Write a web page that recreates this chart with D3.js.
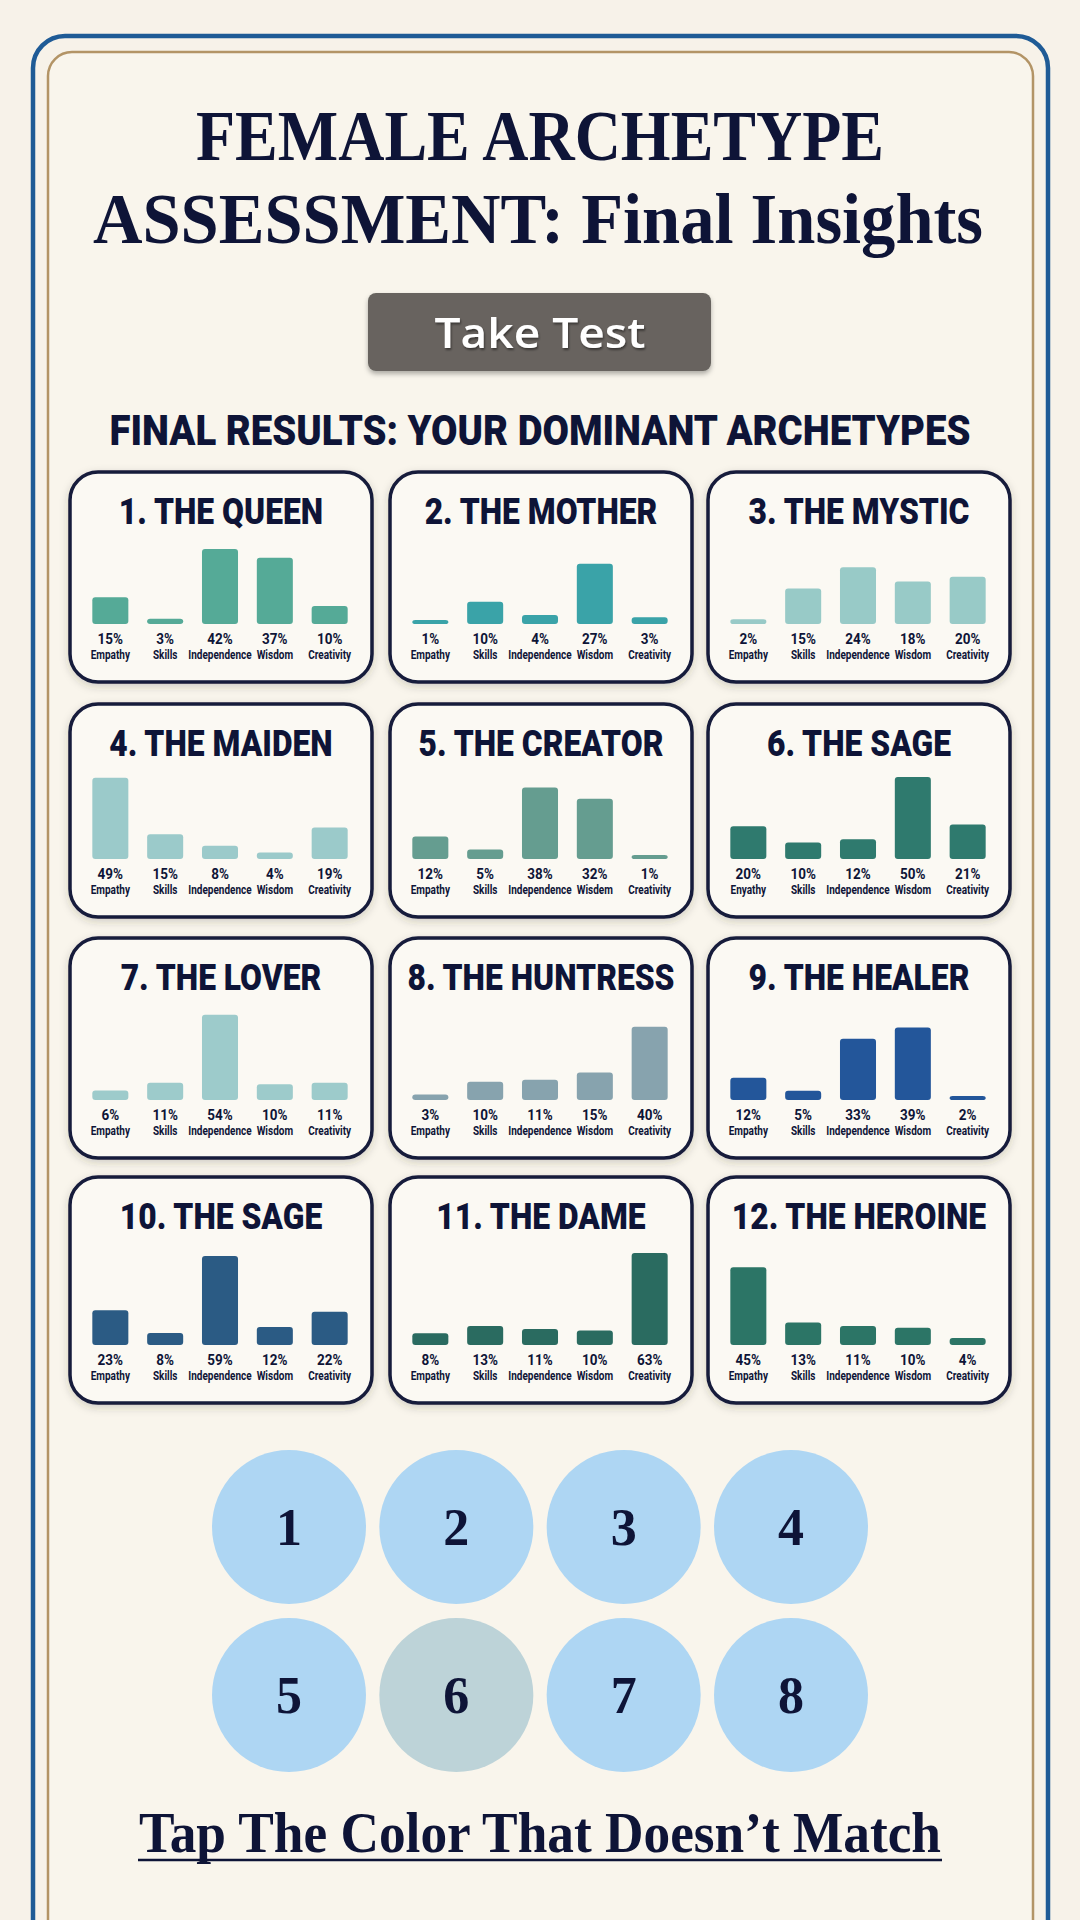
<!DOCTYPE html>
<html><head><meta charset="utf-8">
<script src="https://cdn.jsdelivr.net/npm/d3@7"></script>
<style>html,body{margin:0;padding:0;background:#f7f2e9;} svg{display:block}</style>
</head><body><svg id="c" width="1080" height="1920"></svg>
<script>
// ---------- DATA ----------
const categories = ["Empathy", "Skills", "Independence", "Wisdom", "Creativity"];
const creatorLabels = ["Empathy", "Skills", "Independence", "Wisdem", "Creativity"];
const sageLabels = ["Enyathy", "Skills", "Independence", "Wisdom", "Creativity"];
const titles = ["1. THE QUEEN", "2. THE MOTHER", "3. THE MYSTIC", "4. THE MAIDEN", "5. THE CREATOR", "6. THE SAGE",
  "7. THE LOVER", "8. THE HUNTRESS", "9. THE HEALER", "10. THE SAGE", "11. THE DAME", "12. THE HEROINE"];
const queen = [15, 3, 42, 37, 10];
const mother = [1, 10, 4, 27, 3];
const mystic = [2, 15, 24, 18, 20];
const maiden = [49, 15, 8, 4, 19];
const creator = [12, 5, 38, 32, 1];
const sage = [20, 10, 12, 50, 21];
const lover = [6, 11, 54, 10, 11];
const huntress = [3, 10, 11, 15, 40];
const healer = [12, 5, 33, 39, 2];
const sage2 = [23, 8, 59, 12, 22];
const dame = [8, 13, 11, 10, 63];
const heroine = [45, 13, 11, 10, 4];
const circleLabels = ["1", "2", "3", "4", "5", "6", "7", "8"];
const oddCircle = "6";

// ---------- STYLE ----------
const barColors = ["#55aa97", "#3aa3a8", "#98cac7", "#9bcaca", "#659d90", "#2f7a6e",
  "#9dcbcb", "#87a3ae", "#23569a", "#2b5b84", "#2a6b60", "#2c7566"];
const navy = "#0e1437";

const seriesList = [queen, mother, mystic, maiden, creator, sage, lover, huntress, healer, sage2, dame, heroine];
const labelList = [categories, categories, categories, categories, creatorLabels, sageLabels,
  categories, categories, categories, categories, categories, categories];
const cards = titles.map((t, i) => ({ title: t, values: seriesList[i], labels: labelList[i], color: barColors[i], i }));

const svg = d3.select("#c");
const defs = svg.append("defs");
const sh = defs.append("filter").attr("id", "cardShadow").attr("x", "-10%").attr("y", "-10%").attr("width", "120%").attr("height", "130%");
sh.append("feDropShadow").attr("dx", 0).attr("dy", 3).attr("stdDeviation", 4).attr("flood-color", "#3a3020").attr("flood-opacity", 0.2);
const bs = defs.append("filter").attr("id", "btnShadow").attr("x", "-10%").attr("y", "-20%").attr("width", "120%").attr("height", "150%");
bs.append("feDropShadow").attr("dx", 0).attr("dy", 3).attr("stdDeviation", 2.5).attr("flood-color", "#000").attr("flood-opacity", 0.3);
const ts = defs.append("filter").attr("id", "txtShadow");
ts.append("feDropShadow").attr("dx", 1).attr("dy", 2).attr("stdDeviation", 1).attr("flood-color", "#000").attr("flood-opacity", 0.45);

// background
svg.append("rect").attr("width", 1080).attr("height", 1920).attr("fill", "#f7f2e9");
svg.append("rect").attr("x", 48).attr("y", 52).attr("width", 985).attr("height", 1950).attr("rx", 24)
  .attr("fill", "#f9f5ec");
// frames
svg.append("rect").attr("x", 33).attr("y", 36).attr("width", 1015).attr("height", 1990).attr("rx", 32)
  .attr("fill", "none").attr("stroke", "#1f5b96").attr("stroke-width", 4.5);
svg.append("rect").attr("x", 48).attr("y", 52).attr("width", 985).attr("height", 1950).attr("rx", 24)
  .attr("fill", "none").attr("stroke", "#b39466").attr("stroke-width", 2.5);

// title
const serif = "'Liberation Serif', 'DejaVu Serif', serif";
svg.append("text").attr("x", 540).attr("y", 160).attr("text-anchor", "middle")
  .attr("font-family", serif).attr("font-weight", 700).attr("font-size", 72).attr("fill", navy)
  .attr("textLength", 688).attr("lengthAdjust", "spacingAndGlyphs").text("FEMALE ARCHETYPE");
svg.append("text").attr("x", 538).attr("y", 243).attr("text-anchor", "middle")
  .attr("font-family", serif).attr("font-weight", 700).attr("font-size", 72).attr("fill", navy)
  .attr("textLength", 890).attr("lengthAdjust", "spacingAndGlyphs").text("ASSESSMENT: Final Insights");

// button
svg.append("rect").attr("x", 368).attr("y", 293).attr("width", 343).attr("height", 78).attr("rx", 8)
  .attr("fill", "#67645f").attr("filter", "url(#btnShadow)");
svg.append("text").attr("x", 540).attr("y", 348).attr("text-anchor", "middle")
  .attr("font-family", "'Open Sans', Lato, sans-serif").attr("font-weight", 600).attr("font-size", 42)
  .attr("fill", "#ffffff").attr("filter", "url(#txtShadow)")
  .attr("textLength", 211).attr("lengthAdjust", "spacingAndGlyphs").text("Take Test");

// section heading
svg.append("text").attr("x", 540).attr("y", 445).attr("text-anchor", "middle")
  .attr("font-family", "Roboto, 'Noto Sans', sans-serif").attr("font-weight", 900).attr("font-size", 42).attr("fill", navy)
  .attr("textLength", 861).attr("lengthAdjust", "spacingAndGlyphs").text("FINAL RESULTS: YOUR DOMINANT ARCHETYPES");

// cards layout
const colX = [70, 390, 708];
const rowTop = [472, 704, 938, 1177];
const rowH = [210, 213, 220, 226];
const cardW = 302;

const x = d3.scaleBand().domain(d3.range(categories.length)).range([13, 287]).paddingInner(0.343).paddingOuter(0.17);
const topBar = d3.scaleSqrt().domain([0, 63]).range([0, 92]);

function condText(g, cx, y, str, size, sx, weight) {
  g.append("g").attr("transform", `translate(${cx},${y}) scale(${sx},1)`)
    .append("text").attr("text-anchor", "middle")
    .attr("font-family", "Roboto, 'Noto Sans', sans-serif").attr("font-weight", weight)
    .attr("font-size", size).attr("fill", navy).text(str);
}

cards.forEach(c => {
  const col = c.i % 3, row = Math.floor(c.i / 3);
  const h = rowH[row];
  const g = svg.append("g").attr("transform", `translate(${colX[col]},${rowTop[row]})`);
  g.append("rect").attr("x", 0).attr("y", 0).attr("width", cardW).attr("height", h).attr("rx", 28)
    .attr("fill", "#fbf9f3").attr("stroke", "#151a3b").attr("stroke-width", 3.5).attr("filter", "url(#cardShadow)");
  condText(g, cardW / 2, 52, c.title, 37, 0.86, 900);
  const base = h - 58;
  const maxV = d3.max(c.values);
  const y = d3.scaleLinear().domain([0, maxV]).range([0, topBar(maxV)]);
  g.selectAll("rect.bar").data(c.values).join("rect").attr("class", "bar")
    .attr("x", (d, k) => x(k)).attr("width", x.bandwidth())
    .attr("y", d => base - Math.max(4, y(d))).attr("height", d => Math.max(4, y(d)))
    .attr("rx", 3).attr("fill", c.color);
  c.values.forEach((v, k) => {
    condText(g, x(k) + x.bandwidth() / 2, h - 38, v + "%", 15, 0.9, 700);
    condText(g, x(k) + x.bandwidth() / 2, h - 23, c.labels[k], 12.5, 0.8, 700);
  });
});

// circles
const cxScale = d3.scalePoint().domain(d3.range(4)).range([289, 791]);
const cyScale = d3.scalePoint().domain(d3.range(2)).range([1527, 1695]);
const cg = svg.append("g");
circleLabels.forEach((lab, i) => {
  const cx = cxScale(i % 4), cy = cyScale(Math.floor(i / 4));
  cg.append("circle").attr("cx", cx).attr("cy", cy).attr("r", 77)
    .attr("fill", lab === oddCircle ? "#bdd3d8" : "#aed6f3");
  cg.append("text").attr("x", cx).attr("y", cy + 18).attr("text-anchor", "middle")
    .attr("font-family", serif).attr("font-weight", 700).attr("font-size", 52).attr("fill", navy).text(lab);
});

// bottom prompt
svg.append("text").attr("x", 540).attr("y", 1852).attr("text-anchor", "middle")
  .attr("font-family", serif).attr("font-weight", 700).attr("font-size", 56).attr("fill", navy)
  .attr("textLength", 802).attr("lengthAdjust", "spacingAndGlyphs").text("Tap The Color That Doesn’t Match");
svg.append("line").attr("x1", 138).attr("x2", 942).attr("y1", 1860).attr("y2", 1860)
  .attr("stroke", navy).attr("stroke-width", 2.5);
</script>
</body></html>
